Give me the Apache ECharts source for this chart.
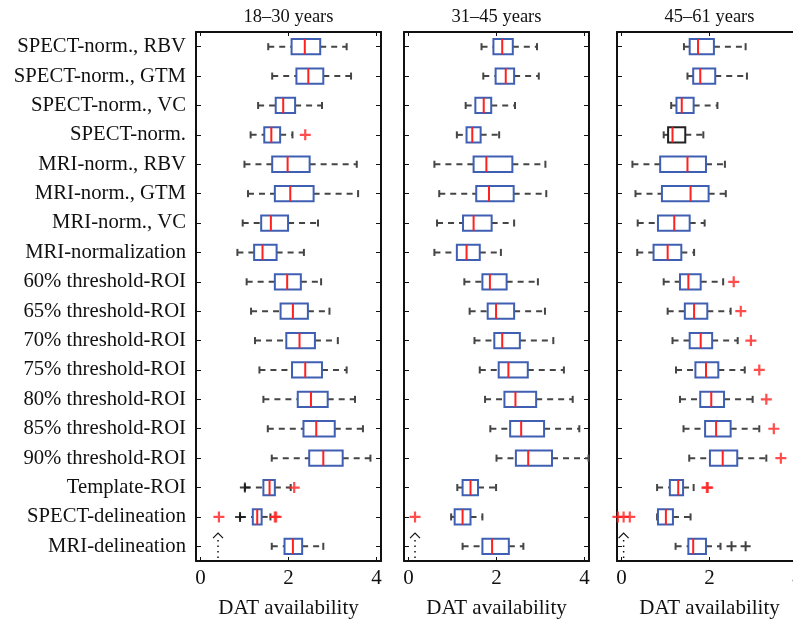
<!DOCTYPE html>
<html>
<head>
	<meta charset="utf-8" />
	<title>DAT availability</title>
	<script type="text/javascript" src="https://cdn.jsdelivr.net/npm/echarts@6/dist/echarts.min.js"></script>
	<style type="text/css">
		html, body { margin: 0; padding: 0; background: #fff; }
		#container { width: 793px; height: 623px; }
	</style>
</head>
<body>
<div id="container"></div>
<script type="text/javascript">
	// row order, top to bottom
	var categories = [
		'SPECT-norm., RBV', 'SPECT-norm., GTM', 'SPECT-norm., VC', 'SPECT-norm.',
		'MRI-norm., RBV', 'MRI-norm., GTM', 'MRI-norm., VC', 'MRI-normalization',
		'60% threshold-ROI', '65% threshold-ROI', '70% threshold-ROI', '75% threshold-ROI',
		'80% threshold-ROI', '85% threshold-ROI', '90% threshold-ROI',
		'Template-ROI', 'SPECT-delineation', 'MRI-delineation'
	];
	var panelTitles = ['18\u201330 years', '31\u201345 years', '45\u201361 years'];
	var xTicks = [0, 2, 4];

	// [low whisker, Q1, median, Q3, high whisker] per row
	var box1830 = [
		[1.54, 2.07, 2.37, 2.72, 3.32], [1.63, 2.18, 2.45, 2.79, 3.42],
		[1.31, 1.71, 1.88, 2.15, 2.76], [1.14, 1.45, 1.61, 1.81, 2.09],
		[1.00, 1.63, 1.98, 2.48, 3.55], [1.08, 1.69, 2.04, 2.57, 3.58],
		[0.96, 1.38, 1.60, 1.99, 2.67], [0.84, 1.22, 1.41, 1.73, 2.35],
		[1.05, 1.69, 1.97, 2.28, 2.74], [1.15, 1.82, 2.10, 2.44, 2.93],
		[1.24, 1.95, 2.25, 2.60, 3.12], [1.34, 2.08, 2.38, 2.76, 3.32],
		[1.43, 2.21, 2.51, 2.89, 3.51], [1.53, 2.34, 2.63, 3.05, 3.69],
		[1.62, 2.47, 2.79, 3.23, 3.86], [1.01, 1.43, 1.57, 1.69, 2.05],
		[0.90, 1.19, 1.29, 1.39, 1.59], [1.62, 1.91, 2.10, 2.31, 2.79]
	];
	var box3145 = [
		[1.66, 1.93, 2.13, 2.37, 2.92], [1.70, 1.98, 2.21, 2.40, 2.96],
		[1.30, 1.52, 1.71, 1.88, 2.42], [1.10, 1.32, 1.45, 1.64, 2.06],
		[0.59, 1.48, 1.77, 2.36, 3.11], [0.70, 1.54, 1.83, 2.39, 3.13],
		[0.65, 1.24, 1.48, 1.89, 2.40], [0.59, 1.10, 1.32, 1.62, 2.10],
		[1.27, 1.68, 1.85, 2.23, 2.94], [1.39, 1.80, 1.99, 2.40, 3.10],
		[1.50, 1.95, 2.13, 2.53, 3.29], [1.62, 2.05, 2.27, 2.71, 3.53],
		[1.74, 2.18, 2.43, 2.90, 3.73], [1.86, 2.31, 2.56, 3.08, 3.88],
		[2.00, 2.44, 2.72, 3.26, 4.09], [1.11, 1.23, 1.41, 1.58, 1.99],
		[0.97, 1.05, 1.23, 1.41, 1.68], [1.23, 1.68, 1.90, 2.28, 2.61]
	];
	var box4561 = [
		[1.42, 1.55, 1.74, 2.10, 2.82], [1.50, 1.63, 1.79, 2.13, 2.85],
		[1.13, 1.25, 1.37, 1.64, 2.18], [0.96, 1.06, 1.16, 1.45, 1.86],
		[0.25, 0.88, 1.50, 1.92, 2.35], [0.32, 0.92, 1.57, 1.98, 2.37],
		[0.37, 0.83, 1.20, 1.55, 1.89], [0.36, 0.73, 1.05, 1.36, 1.65],
		[0.96, 1.33, 1.52, 1.80, 2.31], [1.05, 1.44, 1.65, 1.95, 2.48],
		[1.16, 1.55, 1.80, 2.06, 2.64], [1.24, 1.68, 1.92, 2.20, 2.80],
		[1.33, 1.79, 2.04, 2.33, 2.98], [1.41, 1.90, 2.15, 2.48, 3.13],
		[1.54, 2.01, 2.30, 2.63, 3.29], [0.81, 1.10, 1.29, 1.40, 1.64],
		[0.81, 0.83, 1.01, 1.17, 1.57], [1.23, 1.52, 1.63, 1.92, 2.25]
	];

	// outliers: [value, category]
	var redOut1830 = [[2.38, 'SPECT-norm.'], [2.13, 'Template-ROI'], [0.42, 'SPECT-delineation'],
		[1.69, 'SPECT-delineation'], [1.72, 'SPECT-delineation']];
	var blackOut1830 = [[1.01, 'Template-ROI'], [0.90, 'SPECT-delineation']];
	var redOut3145 = [[0.15, 'SPECT-delineation']];
	var blackOut3145 = [];
	var redOut4561 = [[2.55, '60% threshold-ROI'], [2.71, '65% threshold-ROI'], [2.94, '70% threshold-ROI'],
		[3.13, '75% threshold-ROI'], [3.29, '80% threshold-ROI'], [3.46, '85% threshold-ROI'],
		[3.62, '90% threshold-ROI'], [1.94, 'Template-ROI'], [1.96, 'Template-ROI'],
		[-0.08, 'SPECT-delineation'], [0.05, 'SPECT-delineation'], [0.19, 'SPECT-delineation']];
	var blackOut4561 = [[2.50, 'MRI-delineation'], [2.82, 'MRI-delineation']];

	// off-scale marker below SPECT-delineation
	var arrowX = [0.40, 0.15, 0.05];

	var panels = [
		{ boxes: box1830, red: redOut1830, black: blackOut1830, blackBoxRow: -1 },
		{ boxes: box3145, red: redOut3145, black: blackOut3145, blackBoxRow: -1 },
		{ boxes: box4561, red: redOut4561, black: blackOut4561, blackBoxRow: 3 }
	];

	var FONT = 'Liberation Serif';
	var gridLeft = [196, 404, 617];
	var gridWidth = 185;
	var BLUE = '#3f5fb2';
	var PLUS = 'path://M4,0H6V4H10V6H6V10H4V6H0V4H4Z';

	var chart = echarts.init(document.getElementById('container'));

	function boxRenderer(blackRow) {
		return function (params, api) {
			var row = api.value(0);
			var lo = api.coord([api.value(1), row]);
			var q1 = api.coord([api.value(2), row]);
			var md = api.coord([api.value(3), row]);
			var q3 = api.coord([api.value(4), row]);
			var hi = api.coord([api.value(5), row]);
			var band = api.size([0, 1])[1];
			var h = band * 0.52;
			var cap = band * 0.24;
			var y = lo[1];
			var whisk = { stroke: '#454545', lineWidth: 2, lineDash: [6, 5] };
			var capStyle = { stroke: '#454545', lineWidth: 2 };
			var boxColor = row === blackRow ? '#222' : BLUE;
			return {
				type: 'group',
				children: [
					{ type: 'line', shape: { x1: lo[0], y1: y, x2: q1[0], y2: y }, style: whisk },
					{ type: 'line', shape: { x1: q3[0], y1: y, x2: hi[0], y2: y }, style: whisk },
					{ type: 'line', shape: { x1: lo[0], y1: y - cap / 2, x2: lo[0], y2: y + cap / 2 }, style: capStyle },
					{ type: 'line', shape: { x1: hi[0], y1: y - cap / 2, x2: hi[0], y2: y + cap / 2 }, style: capStyle },
					{ type: 'rect', shape: { x: q1[0], y: y - h / 2, width: q3[0] - q1[0], height: h },
						style: { fill: '#fff', stroke: boxColor, lineWidth: 2 } },
					{ type: 'line', shape: { x1: md[0], y1: y - h / 2, x2: md[0], y2: y + h / 2 },
						style: { stroke: '#ff2020', lineWidth: 2 } }
				]
			};
		};
	}

	function arrowRenderer(params, api) {
		var p = api.coord([api.value(0), categories.length - 1]);
		var band = api.size([0, 1])[1];
		var top = p[1] - band * 0.45;
		return {
			type: 'group',
			children: [
				{ type: 'polyline', shape: { points: [[p[0] - 5, top + 5], [p[0], top], [p[0] + 5, top + 5]] },
					style: { stroke: '#111', lineWidth: 1.2, fill: null } },
				{ type: 'line', shape: { x1: p[0], y1: top + 7, x2: p[0], y2: p[1] + band * 0.45 },
					style: { stroke: '#111', lineWidth: 1.5, lineDash: [1.5, 4] } }
			]
		};
	}

	var grids = [], xAxes = [], yAxes = [], series = [], titles = [];
	panels.forEach(function (pn, i) {
		grids.push({ left: gridLeft[i], width: gridWidth, top: 32, height: 529, outerBoundsMode: 'none', containLabel: false });
		titles.push({
			text: panelTitles[i], left: gridLeft[i] + gridWidth / 2 - 5, top: 3, textAlign: 'center',
			textStyle: { fontFamily: FONT, fontSize: 18.5, fontWeight: 'normal', color: '#111' }
		});
		var axisLine = { show: true, onZero: false, lineStyle: { color: '#111', width: 2 } };
		xAxes.push({
			gridIndex: i, type: 'value', min: -0.1, max: 4.1, position: 'bottom',
			axisLine: axisLine,
			axisTick: { show: true, inside: true, length: 4, customValues: xTicks, lineStyle: { color: '#111' } },
			axisLabel: { customValues: xTicks, fontFamily: FONT, fontSize: 21, color: '#111', margin: 7 },
			splitLine: { show: false },
			name: 'DAT availability', nameLocation: 'middle', nameGap: 37,
			nameTextStyle: { fontFamily: FONT, fontSize: 21, color: '#111' }
		});
		xAxes.push({
			gridIndex: i, type: 'value', min: -0.1, max: 4.1, position: 'top',
			axisLine: axisLine,
			axisTick: { show: true, inside: true, length: 4, customValues: xTicks, lineStyle: { color: '#111' } },
			axisLabel: { show: false },
			splitLine: { show: false }
		});
		yAxes.push({
			gridIndex: i, type: 'category', data: categories, inverse: true, position: 'left',
			axisLine: axisLine,
			axisTick: { show: true, inside: true, alignWithLabel: true, length: 5, lineStyle: { color: '#111' } },
			axisLabel: { show: i === 0, fontFamily: FONT, fontSize: 20.7, color: '#111', margin: 10 }
		});
		yAxes.push({
			gridIndex: i, type: 'category', data: categories, inverse: true, position: 'right',
			axisLine: axisLine,
			axisTick: { show: true, inside: true, alignWithLabel: true, length: 5, lineStyle: { color: '#111' } },
			axisLabel: { show: false }
		});

		series.push({
			type: 'custom', xAxisIndex: 2 * i, yAxisIndex: 2 * i,
			renderItem: boxRenderer(pn.blackBoxRow),
			encode: { x: [1, 2, 3, 4, 5], y: 0 },
			data: pn.boxes.map(function (b, r) { return [r].concat(b); }),
			silent: true
		});
		series.push({
			type: 'scatter', xAxisIndex: 2 * i, yAxisIndex: 2 * i,
			symbol: PLUS, symbolSize: 10, itemStyle: { color: '#111' },
			data: pn.black, silent: true, clip: false
		});
		series.push({
			type: 'scatter', xAxisIndex: 2 * i, yAxisIndex: 2 * i,
			symbol: PLUS, symbolSize: 11, itemStyle: { color: '#ff2020' },
			data: pn.red, silent: true, clip: false
		});
		series.push({
			type: 'custom', xAxisIndex: 2 * i, yAxisIndex: 2 * i,
			renderItem: arrowRenderer,
			encode: { x: 0 },
			data: [[arrowX[i]]],
			silent: true
		});
	});

	chart.setOption({
		animation: false,
		backgroundColor: '#fff',
		title: titles,
		grid: grids,
		xAxis: xAxes,
		yAxis: yAxes,
		series: series
	});
</script>
</body>
</html>
